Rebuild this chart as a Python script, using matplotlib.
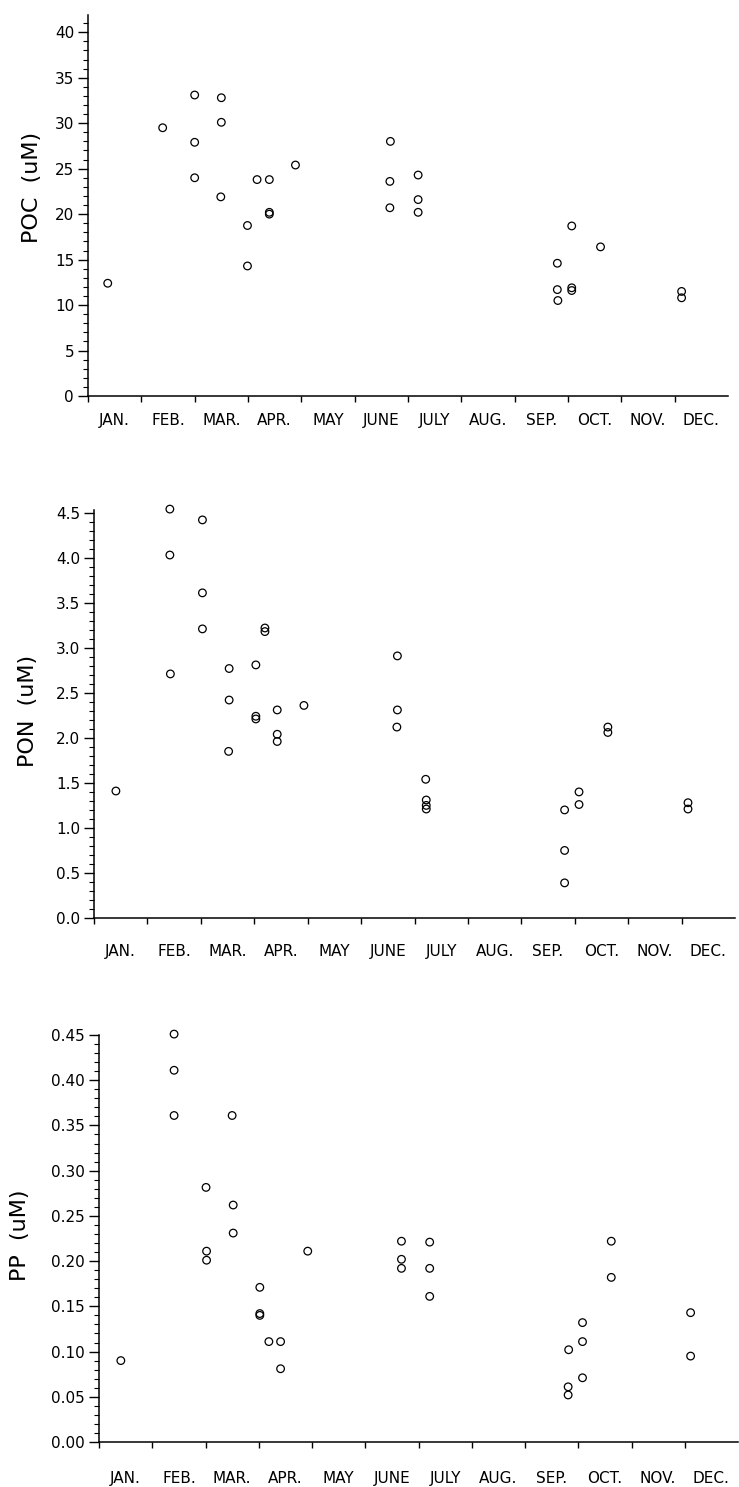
import matplotlib
matplotlib.use("Agg")
import matplotlib.pyplot as plt
from matplotlib.ticker import MultipleLocator, FixedLocator, FormatStrFormatter, NullFormatter

plt.rcParams['font.family'] = ['DejaVu Sans']

months = ["JAN.", "FEB.", "MAR.", "APR.", "MAY", "JUNE", "JULY", "AUG.",
          "SEP.", "OCT.", "NOV.", "DEC."]

# time in months since Jan 1 (fractional)
poc_t = [0.37, 1.40, 2.00, 2.00, 2.00, 2.50, 2.50, 2.49, 2.99, 2.99, 3.17, 3.40,
         3.40, 3.40, 3.89, 5.67, 5.66, 5.66, 6.19, 6.19, 6.19, 9.07, 9.61, 8.80,
         8.80, 8.81, 9.07, 9.07, 11.13, 11.13]
poc_v = [12.4, 29.5, 33.1, 27.9, 24.0, 32.8, 30.1, 21.9, 18.75, 14.3, 23.8, 23.8,
         20.0, 20.2, 25.4, 28.0, 23.6, 20.7, 24.3, 21.6, 20.2, 18.7, 16.4, 14.6,
         11.7, 10.5, 11.9, 11.6, 11.5, 10.8]

pon_t = [0.41, 1.42, 1.42, 1.43, 2.03, 2.03, 2.03, 2.53, 2.53, 2.52, 3.03, 3.03,
         3.03, 3.20, 3.20, 3.43, 3.43, 3.43, 3.93, 5.68, 5.68, 5.67, 6.21, 6.22,
         6.22, 6.22, 8.81, 8.81, 8.81, 9.08, 9.08, 9.62, 9.62, 11.12, 11.12]
pon_v = [1.41, 4.54, 4.03, 2.71, 4.42, 3.61, 3.21, 2.77, 2.42, 1.85, 2.81, 2.21,
         2.24, 3.22, 3.18, 2.31, 2.04, 1.96, 2.36, 2.91, 2.31, 2.12, 1.54, 1.31,
         1.25, 1.21, 1.20, 0.75, 0.39, 1.40, 1.26, 2.12, 2.06, 1.28, 1.21]

pp_t = [0.41, 1.41, 1.41, 1.41, 2.01, 2.02, 2.02, 2.50, 2.52, 2.52, 3.02, 3.02,
        3.02, 3.19, 3.41, 3.41, 3.92, 5.68, 5.68, 5.68, 6.21, 6.21, 6.21, 8.82,
        8.81, 8.81, 9.08, 9.08, 9.08, 9.62, 9.62, 11.11, 11.11]
pp_v = [0.090, 0.451, 0.411, 0.361, 0.2815, 0.211, 0.201, 0.361, 0.262, 0.231,
        0.171, 0.140, 0.142, 0.111, 0.111, 0.081, 0.211, 0.222, 0.202, 0.192,
        0.221, 0.192, 0.161, 0.102, 0.061, 0.052, 0.132, 0.111, 0.071, 0.222,
        0.182, 0.143, 0.095]

W, H = 739, 1487
fig = plt.figure(figsize=(W / 100, H / 100), dpi=100)

panels = [
    # (t, v, ylabel, ylim_top, major, minor, fmt, rect px (left, right, bottom, top), month pad, label x, label y)
    (poc_t, poc_v, "POC  (uM)", 41.9, 5, 1, "%d", (88, 728, 396, 15), 12, -0.072, 0.547),
    (pon_t, pon_v, "PON  (uM)", 4.53, 0.5, 0.1, "%.1f", (94, 735, 918, 510), 19, -0.088, 0.507),
    (pp_t, pp_v, "PP  (uM)", 0.45, 0.05, 0.01, "%.2f", (99, 738, 1442, 1035), 21, -0.108, 0.508),
]

for t, v, ylab, ytop, maj, mnr, fmt, (l, r, b, tp), mpad, lx, ly in panels:
    ax = fig.add_axes([l / W, (H - b) / H, (r - l) / W, (b - tp) / H])
    ax.scatter(t, v, s=30, facecolors='none', edgecolors='black', linewidths=0.9,
               clip_on=False, zorder=3)
    ax.set_xlim(0, 12)
    ax.set_ylim(0, ytop)
    for s in ('top', 'right'):
        ax.spines[s].set_visible(False)
    for s in ('left', 'bottom'):
        ax.spines[s].set_linewidth(1.1)
    # x: month boundaries as major ticks, month names centred as minor labels
    ax.xaxis.set_major_locator(FixedLocator(list(range(12))))
    ax.xaxis.set_major_formatter(NullFormatter())
    ax.xaxis.set_minor_locator(FixedLocator([k + 0.5 for k in range(12)]))
    ax.set_xticklabels(months, minor=True)
    ax.tick_params(axis='x', which='major', direction='out', length=4, width=1.0)
    ax.tick_params(axis='x', which='minor', length=0, pad=mpad, labelsize=11)
    # y
    ax.yaxis.set_major_locator(MultipleLocator(maj))
    ax.yaxis.set_minor_locator(MultipleLocator(mnr))
    ax.yaxis.set_major_formatter(FormatStrFormatter(fmt))
    ax.tick_params(axis='y', which='major', direction='out', length=7, width=1.0,
                   labelsize=11, pad=3)
    ax.tick_params(axis='y', which='minor', direction='out', length=3.5, width=0.8)
    ax.set_ylabel(ylab, fontsize=16)
    ax.yaxis.set_label_coords(lx, ly)

fig.savefig("out.png", dpi=100, facecolor='white')
